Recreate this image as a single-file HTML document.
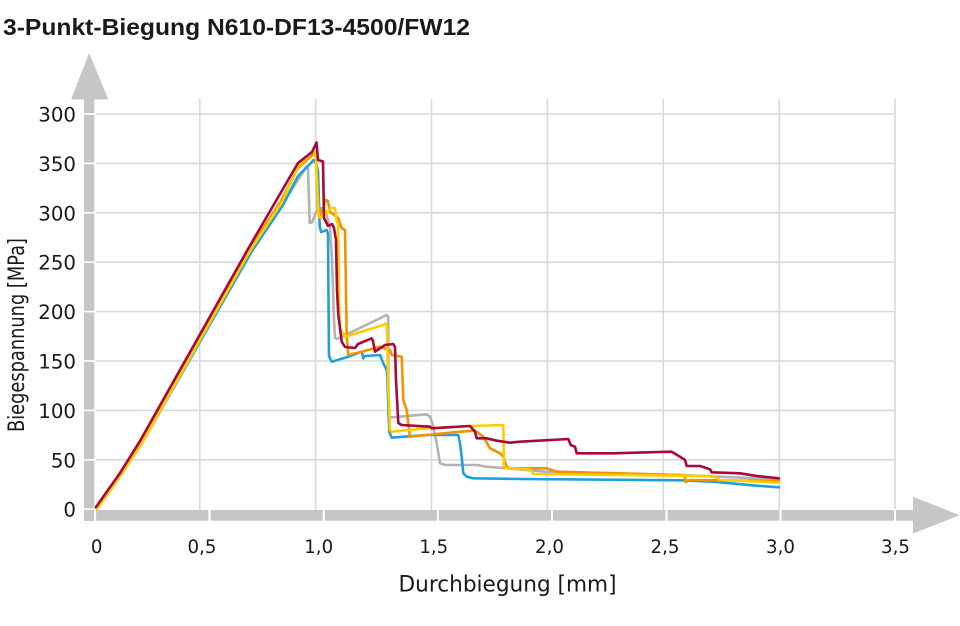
<!DOCTYPE html>
<html>
<head>
<meta charset="utf-8">
<style>
  html,body{margin:0;padding:0;background:#fff;}
  svg{display:block;}
</style>
</head>
<body>
<svg width="960" height="626" viewBox="0 0 960 626" xmlns="http://www.w3.org/2000/svg">
  <!-- Title -->
  <text x="3" y="35" font-family="Liberation Sans, Arial, sans-serif" font-weight="bold" font-size="23.5" fill="#1a1a1a" textLength="467" lengthAdjust="spacingAndGlyphs">3-Punkt-Biegung N610-DF13-4500/FW12</text>

  <!-- Grid: horizontal -->
  <g stroke="#d9d9d9" stroke-width="1.6" fill="none">
    <line x1="96" y1="114" x2="895" y2="114"/>
    <line x1="96" y1="163.4" x2="895" y2="163.4"/>
    <line x1="96" y1="212.8" x2="895" y2="212.8"/>
    <line x1="96" y1="262.2" x2="895" y2="262.2"/>
    <line x1="96" y1="311.6" x2="895" y2="311.6"/>
    <line x1="96" y1="361" x2="895" y2="361"/>
    <line x1="96" y1="410.4" x2="895" y2="410.4"/>
    <line x1="96" y1="459.8" x2="895" y2="459.8"/>
    <!-- vertical -->
    <line x1="199.8" y1="99" x2="199.8" y2="510"/>
    <line x1="315.7" y1="99" x2="315.7" y2="510"/>
    <line x1="431.5" y1="99" x2="431.5" y2="510"/>
    <line x1="547.4" y1="99" x2="547.4" y2="510"/>
    <line x1="663.3" y1="99" x2="663.3" y2="510"/>
    <line x1="779.3" y1="99" x2="779.3" y2="510"/>
    <line x1="895" y1="99" x2="895" y2="510"/>
  </g>

  <!-- Y axis bar + arrow -->
  <g fill="#c6c6c8">
    <rect x="84" y="98" width="10.3" height="423"/>
    <polygon points="71,99.5 108.3,99.5 89.2,53"/>
    <!-- X axis bar + arrow -->
    <rect x="96" y="510" width="818" height="10.7"/>
    <polygon points="913,496.7 913,533.5 959.5,515.2"/>
  </g>
  <!-- white cuts in y bar -->
  <g stroke="#fff" stroke-width="1.6">
    <line x1="83" y1="114" x2="96" y2="114"/>
    <line x1="83" y1="163.4" x2="96" y2="163.4"/>
    <line x1="83" y1="212.8" x2="96" y2="212.8"/>
    <line x1="83" y1="262.2" x2="96" y2="262.2"/>
    <line x1="83" y1="311.6" x2="96" y2="311.6"/>
    <line x1="83" y1="361" x2="96" y2="361"/>
    <line x1="83" y1="410.4" x2="96" y2="410.4"/>
    <line x1="83" y1="459.8" x2="96" y2="459.8"/>
    <line x1="83" y1="509.2" x2="96" y2="509.2"/>
  </g>
  <!-- white cuts in x bar -->
  <g fill="#fff">
    <rect x="94.3" y="508" width="1.8" height="14"/>
    <rect x="208.4" y="509" width="2.3" height="13"/>
    <rect x="322.7" y="509" width="2.1" height="13"/>
    <rect x="436.9" y="509" width="1.9" height="13"/>
    <rect x="551" y="509" width="2" height="13"/>
    <rect x="665.5" y="509" width="2" height="13"/>
    <rect x="779.5" y="509" width="2" height="13"/>
    <rect x="894" y="509" width="2" height="13"/>
  </g>

  <!-- Y tick labels -->
  <g font-family="DejaVu Sans, Liberation Sans, sans-serif" font-size="19.8" fill="#1a1a1a" text-anchor="end">
    <text x="76" y="121.5">300</text>
    <text x="76" y="170.9">350</text>
    <text x="76" y="220.3">300</text>
    <text x="76" y="269.7">250</text>
    <text x="76" y="319.1">200</text>
    <text x="76" y="368.5">150</text>
    <text x="76" y="417.9">100</text>
    <text x="76" y="467.3">50</text>
    <text x="76" y="516.7">0</text>
  </g>

  <!-- X tick labels -->
  <g font-family="DejaVu Sans, Liberation Sans, sans-serif" font-size="18.2" fill="#1a1a1a" text-anchor="middle">
    <text x="96.7" y="553">0</text>
    <text x="202" y="553">0,5</text>
    <text x="318.7" y="553">1,0</text>
    <text x="433.8" y="553">1,5</text>
    <text x="549.5" y="553">2,0</text>
    <text x="665" y="553">2,5</text>
    <text x="780.5" y="553">3,0</text>
    <text x="895.5" y="553">3,5</text>
  </g>

  <!-- Axis titles -->
  <text x="398.5" y="591.5" font-family="DejaVu Sans, Liberation Sans, sans-serif" font-size="22" fill="#1a1a1a" textLength="218" lengthAdjust="spacingAndGlyphs">Durchbiegung [mm]</text>
  <text transform="translate(24,432) rotate(-90)" x="0" y="0" font-family="DejaVu Sans, Liberation Sans, sans-serif" font-size="22" fill="#1a1a1a" textLength="194" lengthAdjust="spacingAndGlyphs">Biegespannung [MPa]</text>

  <!-- Curves -->
  <g fill="none" stroke-width="2.6" stroke-linejoin="round" stroke-linecap="round">
    <!-- gray -->
    <polyline stroke="#b3b3b3" points="96,508 121,474 141,442 251,251 282,205 298,180 306.5,166.5 308,169 309.7,223 312,222.5 316,212 320,208 326,212 330,228 332,260 334,320 335,338 337,339 386.7,315 388.3,317 388.5,417 391.7,417.3 426.7,414.3 430,416.7 433.3,426.7 436.7,443.3 440,463.3 445,465 476.7,465 486.7,466.7 506.7,468.3 546.7,471.7 680,475 779,479.3"/>
    <!-- blue -->
    <polyline stroke="#1fa0dc" points="97,509 121,475 142,443 252,251 283,205 298,176 311,163 313.5,160 316,163 318,171 319.7,226 321,232 326.7,230 328,234 328.5,300 329,356 331.7,361.7 348.3,356.7 361.7,351.7 363.3,358.3 365,356 380,355 383.3,363.3 386.7,370 387.3,378.3 389.3,431.7 391.7,437.7 403.3,436.7 426.7,435 458.3,435 460,443.3 461.7,456.7 463.3,473.3 466.7,476.7 473.3,478.3 520,479 680,480.3 713.3,481.7 756.7,485.7 779,487.3"/>
    <!-- orange -->
    <polyline stroke="#f39200" points="97,508 121,474 141,442 249,250 281,201 298,168 313.5,154 316,156 318,212 321,214 324,205 326,200 328,201 330,212 333,214 338.3,218.3 341.7,228.3 345,230 346.7,335 348.3,355 361.7,351.7 380,346.7 390,350 391.7,355 401.7,356.7 403.3,400 406.7,410 408.3,423.3 410,436.7 426.7,435 460,431.7 475,430.7 483.3,436.7 490,448.3 500,453.3 503.3,456.7 506.7,466.7 510,468.3 546.7,468.3 556.7,471.7 680,475 684,475 686,482 690,480 779,481"/>
    <!-- yellow -->
    <polyline stroke="#ffcc00" points="97,509 109,492 121,475 142,443 250,251 282,202 298,167 313,151 315,152 316,160 318.7,216 321,218 324.7,210 327,214 330,208 335,208 336.7,221.7 338,222 339,300 340,328.3 345,336.7 383.3,325 385.5,323.5 387,326 388,380 390,430 391.7,431.7 426.7,428.3 470,426 503.3,425 504,466.7 506.7,468.3 530,469.3 533.3,474 613.3,475 713.3,476 720,480 779,482.5"/>
    <!-- red -->
    <polyline stroke="#a6093d" points="96,507 108,490 120,473 140,441 248,249 298,163 312,152 316.5,142.5 318,160 323,161.5 324,218 326,222 328,226 332,224 334,228 336,240 337,290 338.3,315 341.7,341.7 345,347 355,348 358,344 371.7,338.3 373,341 375,351.7 385,345 393.3,344 395,347 396,380 398.3,423 401.7,425 430,426.7 431.7,428.3 470,426 475,431.7 476.7,438.3 486.7,438.3 496.7,440.7 510,442.7 520,441.7 568.3,439 570.7,445 575,446.7 576.7,453.3 613.3,453.3 671.7,451.7 680,456.7 685,460 686.7,466 700,466 710,469.3 711.7,472.3 740,473.3 756.7,476 779,478.3"/>
  </g>
</svg>
</body>
</html>
